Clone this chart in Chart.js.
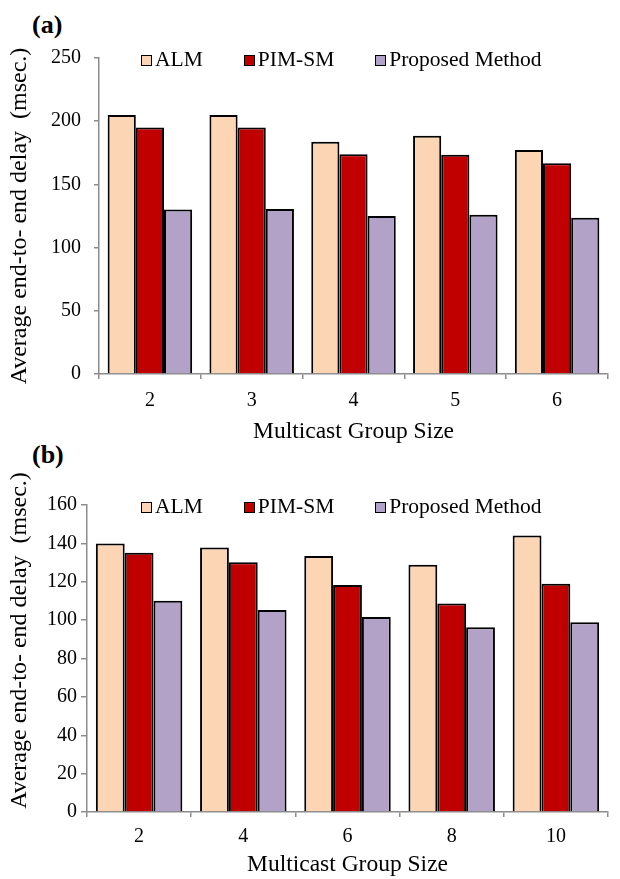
<!DOCTYPE html>
<html>
<head>
<meta charset="utf-8">
<script src="https://cdn.jsdelivr.net/npm/chart.js@4.4.0/dist/chart.umd.min.js"></script>
<style>
  html, body { margin: 0; padding: 0; background: #fff; }
  body { width: 620px; height: 879px; position: relative; overflow: hidden;
         font-family: "Liberation Serif", "Times New Roman", serif; color: #000; }
  canvas { position: absolute; left: 0; }
  .tag { position: absolute; left: 32px; font-weight: bold; font-size: 26px; line-height: 1; }
  .legend { position: absolute; left: 141px; height: 22px; display: flex; align-items: center;
            gap: 41px; font-size: 21.5px; line-height: 1; white-space: nowrap; }
  .legend .item { display: flex; align-items: center; gap: 3px; }
  .legend .box { width: 9px; height: 9px; border: 1.6px solid #000; }
</style>
</head>
<body>
<div class="tag" style="top:12px">(a)</div>
<div class="tag" style="top:442px">(b)</div>
<canvas id="chartA" width="620" height="446" style="top:0"></canvas>
<canvas id="chartB" width="620" height="433" style="top:446px"></canvas>
<div class="legend" id="legendA" style="top:49px"></div>
<div class="legend" id="legendB" style="top:496px"></div>
<script>
/* categories */
const groupSizesA = ["2", "3", "4", "5", "6"];
const groupSizesB = ["2", "4", "6", "8", "10"];
const seriesNames = ["ALM", "PIM-SM", "Proposed Method"];
const seriesColors = ["#FCD5B5", "#C00000", "#B3A2C7"];

/* (a) delay in msec */
const almA = [205, 205, 183.7, 188.4, 177.3];
const pimA = [195, 195, 173.9, 173.4, 166.8];
const proposedA = [130.2, 130.5, 125, 126, 123.7];

/* (b) delay in msec */
const almB = [140, 137.9, 133.4, 128.9, 144.1];
const pimB = [135.1, 130.1, 118.3, 108.7, 119];
const proposedB = [110.1, 105.3, 101.6, 96.3, 98.9];

const yTitle = "Average end-to- end delay  (msec.)";
const fontFamily = "'Liberation Serif', 'Times New Roman', serif";
const axisGray = "#8c8c8c";

/* build one grouped bar chart, box holds the layout numbers */
function makeChart(canvas, labels, values, yMax, yStep, box) {
  return new Chart(canvas, {
    type: "bar",
    data: {
      labels: labels,
      datasets: seriesNames.map((name, i) => ({
        label: name,
        data: values[i],
        backgroundColor: seriesColors[i],
        borderColor: "#000",
        borderWidth: 2,
        categoryPercentage: 0.83,
        barPercentage: 1.0
      }))
    },
    options: {
      responsive: false,
      animation: false,
      layout: { padding: { top: box.top, right: box.right, left: 0, bottom: 0 } },
      plugins: { legend: { display: false }, tooltip: { enabled: false } },
      scales: {
        x: {
          offset: true,
          grid: { offset: true, drawOnChartArea: false, drawTicks: true, tickLength: 5,
                  color: axisGray, lineWidth: 1.5 },
          border: { color: axisGray, width: 1.5 },
          ticks: { color: "#000", font: { family: fontFamily, size: 20 }, padding: box.xPad },
          title: { display: true, text: "Multicast Group Size", color: "#000",
                   font: { family: fontFamily, size: 23.5 }, padding: { top: 0, bottom: 0 } },
          afterFit: (s) => { s.height = box.xHeight; }
        },
        y: {
          min: 0,
          max: yMax,
          ticks: { stepSize: yStep, color: "#000", font: { family: fontFamily, size: 20 },
                   padding: box.yPad },
          grid: { drawOnChartArea: false, drawTicks: true, tickLength: box.yTick,
                  color: axisGray, lineWidth: 1.5 },
          border: { color: axisGray, width: 1.5 },
          title: { display: true, text: box.yLead + yTitle, color: "#000",
                   font: { family: fontFamily, size: 24 }, padding: { top: 5, bottom: 0 } },
          afterFit: (s) => { s.width = box.yWidth; }
        }
      }
    }
  });
}

/* html legend made from the chart's own datasets */
function buildLegend(chart, el) {
  chart.data.datasets.forEach((ds) => {
    const item = document.createElement("div");
    item.className = "item";
    const sw = document.createElement("span");
    sw.className = "box";
    sw.style.background = ds.backgroundColor;
    const txt = document.createElement("span");
    txt.textContent = ds.label;
    item.appendChild(sw);
    item.appendChild(txt);
    el.appendChild(item);
  });
}

const chartA = makeChart(document.getElementById("chartA"), groupSizesA,
  [almA, pimA, proposedA], 250, 50,
  { top: 58, right: 12, xHeight: 72, yWidth: 99, yPad: 13, yTick: 5, xPad: 10, yLead: "" });
/* leading spaces nudge the (b) axis title up, as in the original */
const chartB = makeChart(document.getElementById("chartB"), groupSizesB,
  [almB, pimB, proposedB], 160, 20,
  { top: 59, right: 12, xHeight: 67, yWidth: 87, yPad: 4, yTick: 6, xPad: 8, yLead: "      " });

buildLegend(chartA, document.getElementById("legendA"));
buildLegend(chartB, document.getElementById("legendB"));
</script>
</body>
</html>
